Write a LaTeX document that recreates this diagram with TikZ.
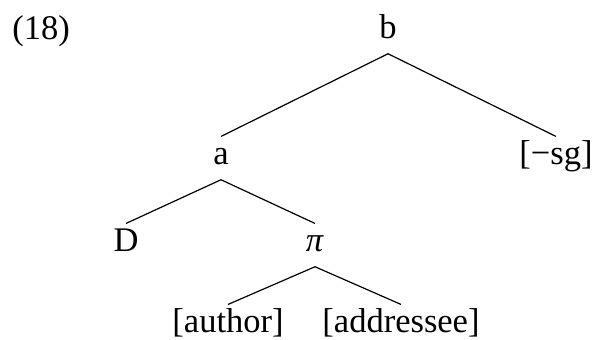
\documentclass[tikz,border=0pt]{standalone}
\usepackage{fontspec}
\setmainfont{Liberation Serif}
\begin{document}
\begin{tikzpicture}[x=0.5pt,y=-0.5pt,
  lab/.style={anchor=base,inner sep=2pt,text height=0.7em,text depth=0.3em},
  br/.style={line width=0.6pt}]
\fontsize{17.25}{20}\selectfont
\useasboundingbox (0,0) rectangle (594,340);
%
\node[anchor=base west,inner sep=0] (ex) at (12,40) {(18)};
\node[lab] (b) at (388,39) {b};
\node[lab] (a) at (221,165) {a};
\node[lab] (sg) at (556,165) {[−sg]};
\node[lab] (D) at (126,252) {D};
\node[lab] (pi) at (315,252) {\textit{π}};
\node[lab] (au) at (228,333) {[author]};
\node[lab] (ad) at (401,333) {[addressee]};
%
\draw[br] (a.north) -- (b.south) -- (sg.north);
\draw[br] (D.north) -- (a.south) -- (pi.north);
\draw[br] (au.north) -- (pi.south) -- (ad.north);
\end{tikzpicture}
\end{document}
